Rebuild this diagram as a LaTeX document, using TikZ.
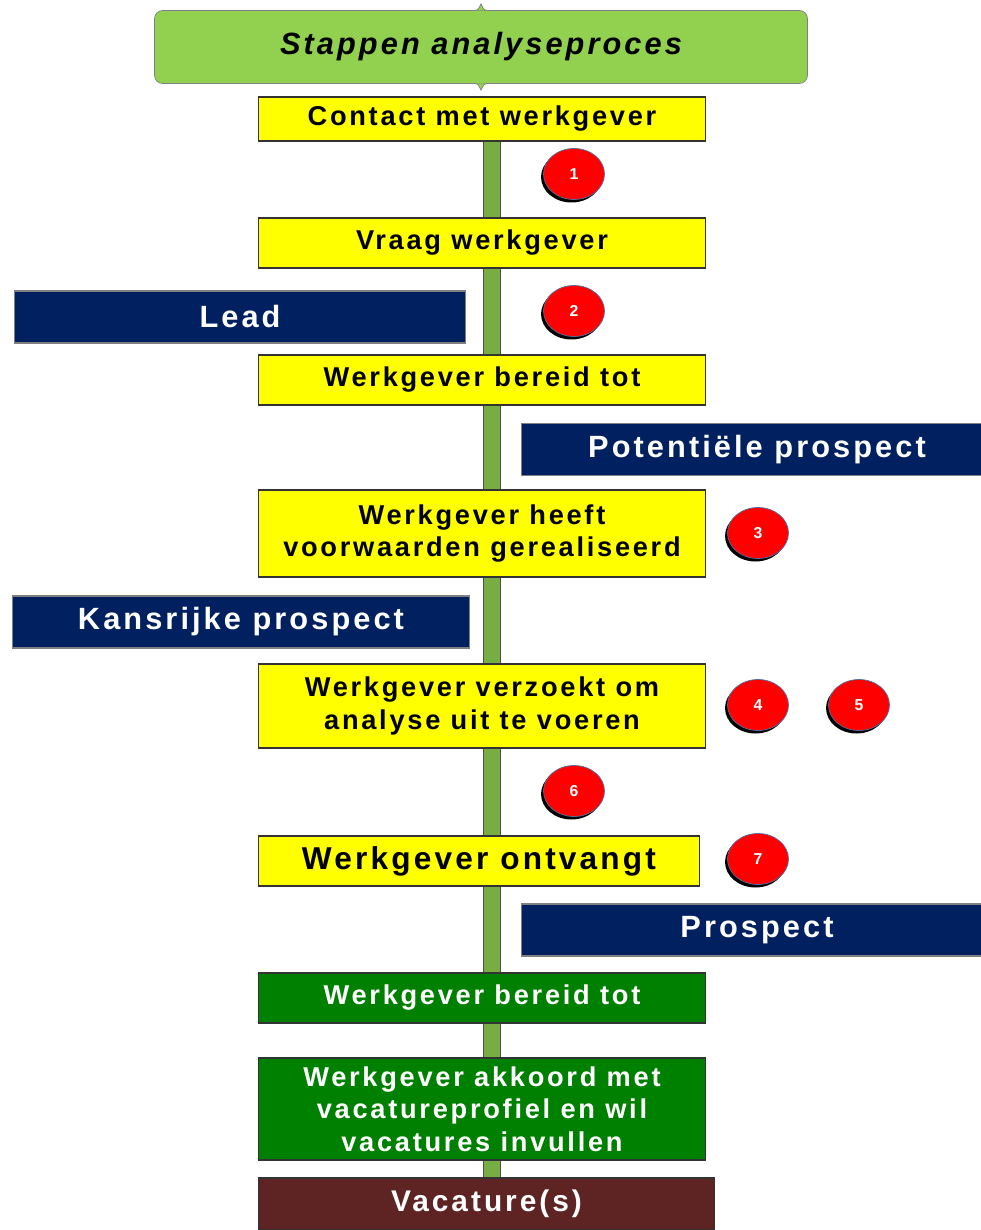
\documentclass[tikz,border=0pt]{standalone}
\usepackage{fontspec}
\setmainfont{Liberation Sans}
\newfontfamily\spacedfont[LetterSpace=10]{Liberation Sans}
\usetikzlibrary{shapes.geometric}
\usetikzlibrary{shadows}
\definecolor{titlegreen}{HTML}{92D050}
\definecolor{boxyellow}{HTML}{FFFF00}
\definecolor{boxgreen}{HTML}{008000}
\definecolor{navy}{HTML}{002060}
\definecolor{maroon}{HTML}{5E2323}
\definecolor{polegreen}{HTML}{77AD42}
\definecolor{numedge}{HTML}{4F6FA0}
\tikzset{
  stepbase/.style={draw=black!80, line width=0.6pt, align=center, inner sep=0pt,
    font=\spacedfont\bfseries\fontsize{15.5}{18.5}\selectfont},
  ybox/.style={stepbase, fill=boxyellow, minimum width=8.96cm},
  gbox/.style={stepbase, fill=boxgreen, text=white, minimum width=8.96cm},
  status/.style={stepbase, fill=navy, text=white, draw=gray, minimum height=1.04cm,
    font=\spacedfont\bfseries\fontsize{17.5}{20}\selectfont},
  num/.style={ellipse, draw=numedge, fill=red, text=white, inner sep=0pt,
    minimum width=1.22cm, minimum height=1.02cm, font=\bfseries\fontsize{9}{10}\selectfont,
    drop shadow={shadow xshift=-0.05cm, shadow yshift=-0.06cm, fill=black, opacity=1}}
}
\begin{document}
\begin{tikzpicture}[x=0.02cm,y=-0.02cm]
	\useasboundingbox (0,0) rectangle (980,1230);
	% pole behind the steps
	\coordinate (poletop) at (483,141);
	\coordinate (polebot) at (500,1180);
	\filldraw[fill=polegreen, draw=black!70] (poletop) rectangle (polebot);
	% title
	\node[draw=gray, fill=titlegreen, rounded corners=0.16cm, minimum width=13.06cm, minimum height=1.46cm,
		font=\spacedfont\bfseries\itshape\fontsize{17.5}{20}\selectfont] (title) at (481,47) {Stappen analyseproces};
	\filldraw[fill=titlegreen, draw=gray] (474,10.5) .. controls (478,10) .. (481,4) .. controls (484,10) .. (488,10.5);
	\filldraw[fill=titlegreen, draw=gray] (474,83.5) .. controls (478,84) .. (481,90) .. controls (484,84) .. (488,83.5);
	% steps
	\node[ybox, minimum height=0.88cm] (contact) at (482,119) {Contact met werkgever};
	\node[ybox, minimum height=1cm] (vraag) at (482,243) {Vraag werkgever};
	\node[ybox, minimum height=1cm] (bereidA) at (482,380) {Werkgever bereid tot};
	\node[ybox, minimum height=1.74cm] (heeft) at (482,533.5) {Werkgever heeft\\voorwaarden gerealiseerd};
	\node[ybox, minimum height=1.68cm] (verzoekt) at (482,706) {Werkgever verzoekt om\\analyse uit te voeren};
	\node[ybox, minimum width=8.84cm, minimum height=1cm, font=\spacedfont\bfseries\fontsize{18}{20}\selectfont] (ontvangt) at (479,861) {Werkgever ontvangt};
	\node[gbox, minimum height=1cm] (bereidB) at (482,998) {Werkgever bereid tot};
	\node[gbox, minimum height=2.04cm] (akkoord) at (482,1109) {Werkgever akkoord met\\vacatureprofiel en wil\\vacatures invullen};
	\node[stepbase, fill=maroon, text=white, minimum width=9.14cm, minimum height=1.04cm,
		font=\spacedfont\bfseries\fontsize{17}{20}\selectfont] (vac) at (486.5,1204) {Vacature(s)};
	% status labels
	\node[status, minimum width=9.02cm] (lead) at (240,317) {Lead};
	\node[status, minimum width=9.44cm] (potent) at (757,449.5) {Potentiële prospect};
	\node[status, minimum width=9.16cm] (kans) at (241,622) {Kansrijke prospect};
	\node[status, minimum width=9.44cm] (prospect) at (757,930) {Prospect};
	% numbers
	\node[num] (n1) at (574,174) {1};
	\node[num] (n2) at (574,311) {2};
	\node[num] (n3) at (758,533) {3};
	\node[num] (n4) at (758,705) {4};
	\node[num] (n5) at (859,705) {5};
	\node[num] (n6) at (574,791) {6};
	\node[num] (n7) at (758,859) {7};
\end{tikzpicture}
\end{document}
